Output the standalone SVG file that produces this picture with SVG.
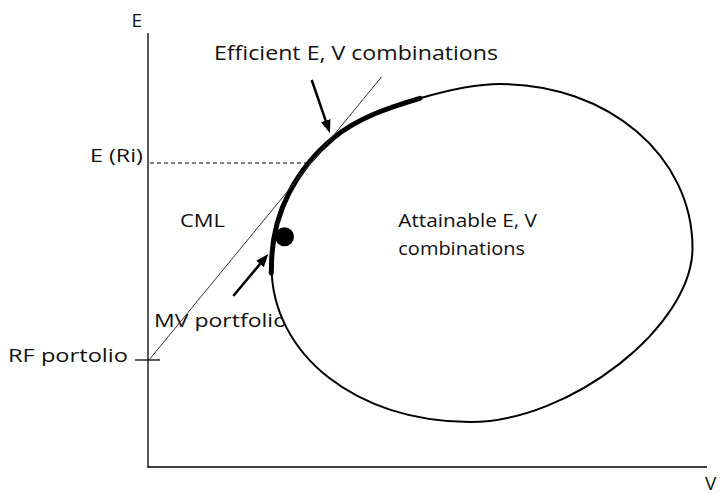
<svg xmlns="http://www.w3.org/2000/svg" width="721" height="495" viewBox="0 0 721 495">
<style>
  .t { font-family: "Open Sans", "Noto Sans", "Liberation Sans", sans-serif; fill: #111; }
  .ax { stroke: #000; stroke-width: 1.3; fill: none; }
  .arr { stroke: #000; stroke-width: 2.5; fill: none; marker-end: url(#ah); }
</style>
<defs>
  <marker id="ah" markerUnits="userSpaceOnUse" markerWidth="13" markerHeight="11" refX="7" refY="5" orient="auto" viewBox="0 0 13 10">
    <path d="M0,0 L13,5 L0,10 z" fill="#000"/>
  </marker>
</defs>
<rect width="721" height="495" fill="#fff"/>

<g id="axes">
  <line class="ax" x1="148" y1="33" x2="148" y2="467.5"/>
  <line class="ax" x1="147.4" y1="467" x2="707" y2="467"/>
  <line class="ax" x1="135" y1="360" x2="160" y2="360"/>
  <line x1="150" y1="163" x2="309" y2="163" stroke="#000" stroke-width="1" stroke-dasharray="4,3"/>
  <text class="t" x="131.5" y="26.7" font-size="19">E</text>
  <text class="t" x="705" y="490" font-size="19">V</text>
  <text class="t" x="90" y="161.7" font-size="19" textLength="53" lengthAdjust="spacingAndGlyphs">E (Ri)</text>
  <text class="t" x="8" y="361.7" font-size="19" textLength="120" lengthAdjust="spacingAndGlyphs">RF portolio</text>
</g>

<g id="mv-label">
  <text class="t" x="154" y="326.7" font-size="19" textLength="133" lengthAdjust="spacingAndGlyphs">MV portfolio</text>
</g>

<g id="attainable-set">
  <path fill="#fff" stroke="#000" stroke-width="2" d="M271.5,266 C271.5,211 298.4,167.1 333,138.3 C357.6,117.8 389.3,107.3 420,98.3 C445.9,90.7 473,84 500,84 C608.1,84 692.5,156.2 692.5,248 C692.5,326.3 570.1,422 470,422 C356.9,422 271.5,354.9 271.5,266 Z"/>
  <text class="t" x="398.3" y="226.7" font-size="18" textLength="138.7" lengthAdjust="spacingAndGlyphs">Attainable E, V</text>
  <text class="t" x="398.3" y="255" font-size="18" textLength="126.7" lengthAdjust="spacingAndGlyphs">combinations</text>
</g>

<g id="efficient-frontier">
  <path fill="none" stroke="#000" stroke-width="5" stroke-linecap="round" d="M271.3,273 L271.5,266 C271.5,211 298.4,167.1 333,138.3 C357.6,117.8 389.3,107.3 420,98.3"/>
  <text class="t" x="214" y="60" font-size="20" textLength="284" lengthAdjust="spacingAndGlyphs">Efficient E, V combinations</text>
</g>

<g id="mv-portfolio">
  <circle cx="284.5" cy="236.7" r="9.5" fill="#000"/>
</g>

<g id="cml">
  <text class="t" x="180" y="226.7" font-size="19" textLength="45" lengthAdjust="spacingAndGlyphs">CML</text>
</g>

<g id="connectors">
  <line x1="149" y1="360" x2="381.7" y2="76.7" stroke="#333" stroke-width="1"/>
  <line class="arr" x1="311.7" y1="80" x2="328" y2="127.3"/>
  <line class="arr" x1="233.3" y1="296" x2="264.5" y2="258.6"/>
</g>
</svg>
